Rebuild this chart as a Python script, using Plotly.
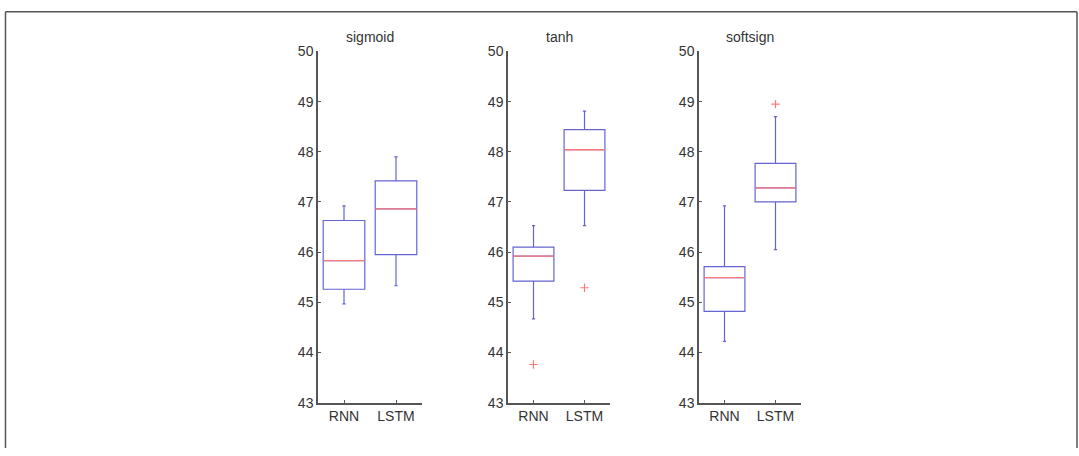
import plotly.graph_objects as go

W, H = 1079, 456

panels = ["sigmoid", "tanh", "softsign"]
categories = ["RNN", "LSTM"]

# per panel: [RNN, LSTM]
lower_whisker = [[44.97, 45.33], [44.67, 46.53], [44.22, 46.05]]
q1 = [[45.26, 45.95], [45.42, 47.23], [44.82, 47.00]]
median = [[45.83, 46.86], [45.92, 48.04], [45.49, 47.28]]
q3 = [[46.63, 47.42], [46.10, 48.44], [45.71, 47.77]]
upper_whisker = [[46.92, 47.90], [46.53, 48.81], [46.92, 48.70]]
# outliers: (panel index, category index, value)
outlier_panel = [1, 1, 2]
outlier_cat = [0, 1, 1]
outlier_val = [43.76, 45.29, 48.95]

y_ticks = [43, 44, 45, 46, 47, 48, 49, 50]

BLUE = "rgb(100,100,210)"
RED = "rgb(255,120,120)"
AXIS = "#555555"
TXT = "#333333"
FONT = "Liberation Sans, Arial, sans-serif"
BOXW = 0.8

x_px = [(318, 422), (508, 610), (699, 801)]
y_dom = [1 - 409 / H, 1 - 45 / H]

fig = go.Figure()
layout = dict(
    width=W, height=H, margin=dict(l=0, r=0, t=0, b=0),
    paper_bgcolor="white", plot_bgcolor="white", showlegend=False,
    font=dict(family=FONT, size=14, color=TXT),
)

annotations = []
for p, name in enumerate(panels):
    xa = "x" if p == 0 else f"x{p+1}"
    ya = "y" if p == 0 else f"y{p+1}"
    xpos = [1, 2]
    fig.add_trace(go.Box(
        x=xpos, q1=q1[p], median=median[p], q3=q3[p],
        lowerfence=lower_whisker[p], upperfence=upper_whisker[p],
        width=BOXW, whiskerwidth=0.08,
        line=dict(color=BLUE, width=1.2), fillcolor="rgba(0,0,0,0)",
        boxpoints=False, xaxis=xa, yaxis=ya, hoverinfo="skip",
    ))
    for c in range(2):
        fig.add_trace(go.Scatter(
            x=[xpos[c] - BOXW / 2, xpos[c] + BOXW / 2],
            y=[median[p][c], median[p][c]],
            mode="lines", line=dict(color=RED, width=1.3),
            xaxis=xa, yaxis=ya, hoverinfo="skip",
        ))
    ox = [xpos[outlier_cat[i]] for i in range(len(outlier_val)) if outlier_panel[i] == p]
    oy = [outlier_val[i] for i in range(len(outlier_val)) if outlier_panel[i] == p]
    if ox:
        fig.add_trace(go.Scatter(
            x=ox, y=oy, mode="markers",
            marker=dict(symbol="cross-thin", size=6, line=dict(color=RED, width=1.2)),
            xaxis=xa, yaxis=ya, hoverinfo="skip",
        ))
    x0, x1 = x_px[p]
    layout["xaxis" if p == 0 else f"xaxis{p+1}"] = dict(
        domain=[x0 / W, x1 / W], range=[0.5, 2.5], anchor=ya,
        tickvals=[1, 2], ticktext=categories, ticks="inside", ticklen=3,
        tickcolor=AXIS, showline=True, linecolor=AXIS, linewidth=1.5,
        showgrid=False, zeroline=False, tickfont=dict(size=14, color=TXT),
    )
    layout["yaxis" if p == 0 else f"yaxis{p+1}"] = dict(
        domain=y_dom, range=[43, 50], anchor=xa,
        tickvals=y_ticks, ticks="inside", ticklen=3, tickcolor=AXIS,
        showline=True, linecolor=AXIS, linewidth=1.5,
        showgrid=False, zeroline=False, tickfont=dict(size=14, color=TXT),
    )
    annotations.append(dict(
        text=name, x=(x0 + x1) / 2 / W, y=1 - 30 / H, xref="paper", yref="paper",
        xanchor="center", yanchor="middle", showarrow=False,
        font=dict(size=14, color=TXT, family=FONT),
    ))

layout["annotations"] = annotations
layout["shapes"] = [
    dict(type="line", xref="paper", yref="paper", x0=5.5 / W, x1=1077 / W,
         y0=1 - 4 / H, y1=1 - 4 / H, line=dict(color="#555555", width=1.5)),
    dict(type="line", xref="paper", yref="paper", x0=5.5 / W, x1=5.5 / W,
         y0=0, y1=1 - 4 / H, line=dict(color="#555555", width=1.5)),
    dict(type="line", xref="paper", yref="paper", x0=1077 / W, x1=1077 / W,
         y0=0, y1=1 - 4 / H, line=dict(color="#555555", width=1.5)),
]
fig.update_layout(**layout)
fig.write_html(
    "out.html",
    config={"displayModeBar": False},
    post_script="document.body.style.margin='0';document.body.style.overflow='hidden';",
)
